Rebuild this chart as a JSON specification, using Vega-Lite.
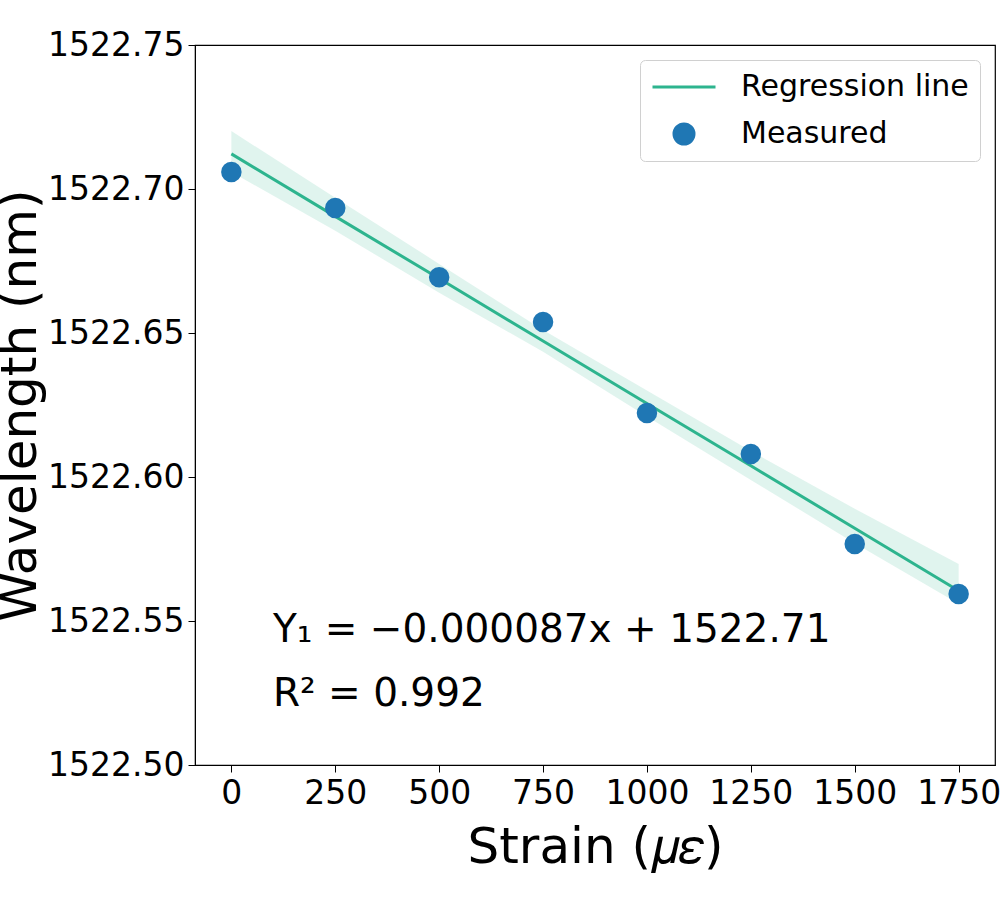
{
  "$schema": "https://vega.github.io/schema/vega-lite/v6.json",
  "description": "Wavelength vs strain with regression line and confidence band.",
  "width": 800,
  "height": 720,
  "autosize": {"type": "none"},
  "padding": {"left": 195, "top": 45, "right": 5, "bottom": 135},
  "background": "white",
  "config": {
    "font": "DejaVu Sans",
    "view": {"stroke": "black", "strokeWidth": 1.2},
    "axis": {
      "grid": false,
      "domainColor": "black",
      "tickColor": "black",
      "tickSize": 7,
      "labelFont": "DejaVu Sans",
      "labelFontSize": 33,
      "labelColor": "black",
      "titleFont": "DejaVu Sans",
      "titleFontWeight": "normal",
      "titleColor": "black",
      "titleFontSize": 50
    }
  },
  "datasets": {
    "measured": [
      {"strain": 0, "wavelength": 1522.7059},
      {"strain": 250, "wavelength": 1522.6934},
      {"strain": 500, "wavelength": 1522.6694},
      {"strain": 750, "wavelength": 1522.6538},
      {"strain": 1000, "wavelength": 1522.6222},
      {"strain": 1250, "wavelength": 1522.608},
      {"strain": 1500, "wavelength": 1522.5767},
      {"strain": 1750, "wavelength": 1522.5594}
    ],
    "fit": [
      {"strain": 0, "fit": 1522.7122, "lo": 1522.7059, "hi": 1522.7201},
      {"strain": 250, "fit": 1522.6905, "lo": 1522.6855, "hi": 1522.697},
      {"strain": 500, "fit": 1522.6689, "lo": 1522.664, "hi": 1522.674},
      {"strain": 750, "fit": 1522.6472, "lo": 1522.6435, "hi": 1522.651},
      {"strain": 1000, "fit": 1522.6255, "lo": 1522.621, "hi": 1522.63},
      {"strain": 1250, "fit": 1522.6039, "lo": 1522.599, "hi": 1522.609},
      {"strain": 1500, "fit": 1522.5822, "lo": 1522.577, "hi": 1522.589},
      {"strain": 1750, "fit": 1522.5605, "lo": 1522.556, "hi": 1522.5698}
    ],
    "notes": [
      {"strain": 100, "wavelength": 1522.5427, "label": "Y₁ = −0.000087x + 1522.71"},
      {"strain": 100, "wavelength": 1522.5205, "label": "R² = 0.992"}
    ]
  },
  "encoding": {
    "x": {
      "field": "strain",
      "type": "quantitative",
      "title": "Strain (𝜇𝜀)",
      "scale": {"domain": [-87.5, 1837.5], "nice": false, "zero": false},
      "axis": {"values": [0, 250, 500, 750, 1000, 1250, 1500, 1750], "format": "d", "labelPadding": 5, "titlePadding": 12, "labelFlush": false}
    }
  },
  "layer": [
    {
      "data": {"name": "fit"},
      "mark": {"type": "area", "color": "#2db48e", "opacity": 0.15},
      "encoding": {
        "y": {"field": "lo", "type": "quantitative"},
        "y2": {"field": "hi"}
      }
    },
    {
      "data": {"name": "fit"},
      "mark": {"type": "line", "strokeWidth": 3},
      "encoding": {
        "y": {
          "field": "fit",
          "type": "quantitative",
          "title": "Wavelength (nm)",
          "scale": {"domain": [1522.5, 1522.75], "nice": false, "zero": false},
          "axis": {"values": [1522.5, 1522.55, 1522.6, 1522.65, 1522.7, 1522.75], "format": ".2f", "labelPadding": 4, "titlePadding": 2, "labelFlush": false}
        },
        "color": {
          "datum": "Regression line",
          "type": "nominal",
          "scale": {"domain": ["Regression line", "Measured"], "range": ["#2db48e", "#1f77b4"]},
          "legend": {
            "title": null,
            "orient": "top-right",
            "offset": 15,
            "padding": 11,
            "fillColor": "white",
            "strokeColor": "#d0d0d0",
            "cornerRadius": 5,
            "labelFont": "DejaVu Sans",
            "labelFontSize": 30,
            "labelColor": "black",
            "labelLimit": 0,
            "labelOffset": 24,
            "rowPadding": 16,
            "symbolSize": 3969,
            "encode": {
              "labels": {
                "update": {
                  "y": {"value": 16},
                  "baseline": {"value": "middle"}
                }
              },
              "symbols": {
                "update": {
                  "y": {"value": 16},
                  "shape": {"signal": "datum.value === 'Measured' ? 'circle' : 'M-1,0H1'"},
                  "size": {"signal": "datum.value === 'Measured' ? 400 : 3969"},
                  "fill": {"signal": "datum.value === 'Measured' ? '#1f77b4' : 'transparent'"},
                  "stroke": {"signal": "datum.value === 'Measured' ? 'transparent' : '#2db48e'"},
                  "strokeWidth": {"value": 3},
                  "opacity": {"value": 1},
                  "fillOpacity": {"value": 1}
                }
              }
            }
          }
        }
      }
    },
    {
      "data": {"name": "measured"},
      "mark": {"type": "point", "filled": true, "opacity": 1, "size": 420},
      "encoding": {
        "y": {"field": "wavelength", "type": "quantitative"},
        "color": {"datum": "Measured", "type": "nominal"}
      }
    },
    {
      "data": {"name": "notes"},
      "mark": {"type": "text", "align": "left", "baseline": "alphabetic", "fontSize": 39, "color": "black"},
      "encoding": {
        "y": {"field": "wavelength", "type": "quantitative"},
        "text": {"field": "label"}
      }
    }
  ]
}
